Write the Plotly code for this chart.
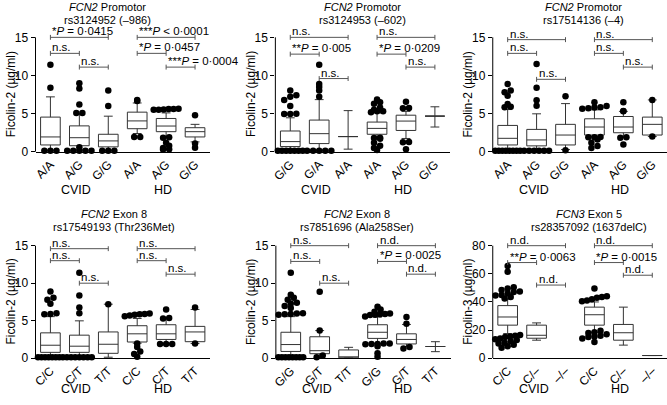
import plotly.graph_objects as go

# ---------------- data ----------------
pairs = [(0, 2), (0, 1), (1, 2), (3, 5), (3, 4), (4, 5)]
groups = ["CVID", "HD"]

# Panel 1
p1_gene, p1_region, p1_snp = "FCN2", "Promotor", "rs3124952 (–986)"
p1_ylabel = "Ficolin-2 (µg/ml)"
p1_yticks = [0, 5, 10, 15]
p1_cats = ["A/A", "A/G", "G/G", "A/A", "A/G", "G/G"]
p1_q1 = [0.90, 0.80, 0.65, 3.03, 2.64, 1.95]
p1_med = [1.95, 1.85, 1.43, 4.05, 3.38, 2.64]
p1_q3 = [4.55, 3.40, 2.30, 5.20, 4.37, 3.16]
p1_lo = [0.20, 0.25, 0.20, 2.40, 2.05, 1.30]
p1_hi = [7.20, 5.00, 4.67, 6.40, 5.10, 3.60]
p1_out = [
    [11.4, 8.4, 0.15, 0.15, 0.15],
    [9.0, 8.3, 6.2, 5.1, 5.1, 0.6, 0.15, 0.15, 0.15, 0.15, 0.15],
    [8.05, 6.0, 0.13, 0.13, 0.13],
    [6.8, 6.65, 1.95, 1.95],
    [5.65, 5.6, 5.6, 5.55, 5.5, 5.5, 1.9, 1.85, 1.2, 0.8, 0.5, 0.35, 0.3],
    [4.8, 1.1, 0.55],
]
p1_levels = [15.0, 12.9, 11.1, 15.0, 12.9, 11.1]
p1_labels = ["*P = 0·0415", "n.s.", "n.s.", "***P < 0·0001", "*P = 0·0457", "***P = 0·0004"]

# Panel 2
p2_gene, p2_region, p2_snp = "FCN2", "Promotor", "rs3124953 (–602)"
p2_ylabel = "Ficolin-2 (µg/ml)"
p2_yticks = [0, 5, 10, 15]
p2_cats = ["G/G", "G/A", "A/A", "A/A", "A/G", "G/G"]
p2_q1 = [0.69, 1.08, 2.00, 2.30, 2.80, 4.68]
p2_med = [1.34, 2.38, 2.00, 3.07, 4.03, 4.68]
p2_q3 = [2.73, 4.16, 2.00, 3.90, 4.80, 4.68]
p2_lo = [0.20, 0.25, 0.35, 1.95, 1.75, 3.25]
p2_hi = [4.46, 6.84, 5.40, 5.10, 5.30, 5.90]
p2_out = [
    [8.05, 7.4, 7.2, 6.8, 6.0, 5.0, 4.95, 4.95, 0.13, 0.13, 0.13, 0.13, 0.13, 0.13, 0.13],
    [11.4, 8.9, 8.5, 8.05, 7.2, 0.13, 0.13, 0.13, 0.13, 0.13],
    [],
    [6.85, 6.5, 6.3, 5.8, 5.5, 5.3, 5.3, 5.2, 1.85, 1.8, 1.7, 1.2, 0.8, 0.5, 0.25],
    [6.55, 5.75, 5.7, 1.3, 1.25, 0.35],
    [],
]
p2_levels = [15.0, 12.8, 9.6, 15.0, 12.8, 11.1]
p2_labels = ["n.s.", "**P = 0·005", "n.s.", "n.s.", "*P = 0·0209", "n.s."]

# Panel 3
p3_gene, p3_region, p3_snp = "FCN2", "Promotor", "rs17514136 (–4)"
p3_ylabel = "Ficolin-2 (µg/ml)"
p3_yticks = [0, 5, 10, 15]
p3_cats = ["A/A", "A/G", "G/G", "A/A", "A/G", "G/G"]
p3_q1 = [0.90, 0.78, 0.90, 2.20, 2.50, 2.20]
p3_med = [1.77, 1.56, 2.20, 3.25, 3.25, 3.60]
p3_q3 = [3.46, 2.94, 3.60, 4.33, 4.63, 4.55]
p3_lo = [0.25, 0.25, 0.30, 2.00, 1.90, 2.00]
p3_hi = [5.54, 4.98, 6.32, 5.50, 5.30, 6.80]
p3_out = [
    [8.9, 8.05, 7.8, 7.36, 6.28, 5.9, 5.85, 0.13, 0.13, 0.13, 0.13, 0.13, 0.13, 0.13, 0.13],
    [11.5, 8.4, 6.75, 6.05, 0.13, 0.13, 0.13, 0.13, 0.13, 0.13],
    [7.27, 0.2],
    [6.5, 6.0, 5.85, 5.8, 5.7, 5.65, 1.95, 1.9, 1.9, 1.6, 1.2, 0.75, 0.5],
    [6.5, 5.35, 5.3, 1.9, 1.85, 0.95],
    [6.8, 2.0],
]
p3_levels = [14.7, 12.9, 9.5, 14.7, 12.9, 11.1]
p3_labels = ["n.s.", "n.s.", "n.s.", "n.s.", "n.s.", "n.s."]

# Panel 4
p4_gene, p4_region, p4_snp = "FCN2", "Exon 8", "rs17549193 (Thr236Met)"
p4_ylabel = "Ficolin-2 (µg/ml)"
p4_yticks = [0, 5, 10, 15]
p4_cats = ["C/C", "C/T", "T/T", "C/C", "C/T", "T/T"]
p4_q1 = [0.78, 0.78, 0.65, 2.16, 2.50, 2.20]
p4_med = [1.73, 1.60, 1.86, 3.25, 3.25, 3.50]
p4_q3 = [3.38, 3.07, 3.50, 4.33, 4.46, 4.24]
p4_lo = [0.25, 0.25, 0.13, 2.00, 1.95, 1.95]
p4_hi = [5.54, 4.98, 7.20, 5.30, 5.30, 6.50]
p4_out = [
    [8.9, 8.05, 7.8, 7.27, 6.0, 5.9, 5.85, 0.13, 0.13, 0.13, 0.13, 0.13, 0.13, 0.13, 0.13],
    [11.4, 8.36, 6.75, 6.0, 0.13, 0.13, 0.13, 0.13, 0.13, 0.13, 0.13],
    [7.2],
    [5.95, 5.9, 5.85, 5.8, 5.7, 5.6, 1.95, 1.5, 0.9, 0.55, 0.2],
    [6.5, 5.35, 5.3, 1.9, 1.9, 1.9],
    [6.75, 1.95],
]
p4_levels = [14.6, 13.0, 10.0, 14.6, 13.0, 11.2]
p4_labels = ["n.s.", "n.s.", "n.s.", "n.s.", "n.s.", "n.s."]

# Panel 5
p5_gene, p5_region, p5_snp = "FCN2", "Exon 8", "rs7851696 (Ala258Ser)"
p5_ylabel = "Ficolin-2 (µg/ml)"
p5_yticks = [0, 5, 10, 15]
p5_cats = ["G/G", "G/T", "T/T", "G/G", "G/T", "T/T"]
p5_q1 = [0.90, 0.60, 0.05, 2.64, 1.90, 1.56]
p5_med = [1.82, 1.00, 0.15, 3.46, 2.50, 1.56]
p5_q3 = [3.46, 2.86, 1.10, 4.46, 3.25, 1.56]
p5_lo = [0.20, 0.10, 0.02, 1.95, 1.55, 0.87]
p5_hi = [5.54, 3.68, 1.45, 5.50, 4.50, 2.20]
p5_out = [
    [11.4, 8.45, 8.05, 7.8, 7.4, 7.3, 6.95, 6.7, 6.0, 5.95, 5.9, 5.85, 5.8,
     0.13, 0.13, 0.13, 0.13, 0.13, 0.13, 0.13, 0.13],
    [8.85, 3.7, 0.35, 0.13],
    [],
    [6.85, 6.5, 6.2, 5.95, 5.9, 5.85, 5.8, 5.75, 5.55, 1.95, 1.95, 1.9, 1.9, 1.85, 1.6, 0.65, 0.2],
    [5.5, 4.6, 1.5, 1.3],
    [],
]
p5_levels = [15.0, 12.9, 10.0, 15.0, 12.9, 11.2]
p5_labels = ["n.s.", "n.s.", "n.s.", "n.d.", "*P = 0·0025", "n.d."]

# Panel 6
p6_gene, p6_region, p6_snp = "FCN3", "Exon 5", "rs28357092 (1637delC)"
p6_ylabel = "Ficolin-3 (µg/ml)"
p6_yticks = [0, 20, 40, 60, 80]
p6_cats = ["C/C", "C/–", "–/–", "C/C", "C/–", "–/–"]
p6_q1 = [23.5, 14.2, None, 23.5, 12.8, 1.9]
p6_med = [29.3, 16.3, None, 30.9, 18.1, 1.9]
p6_q3 = [37.4, 23.5, None, 36.3, 24.0, 1.9]
p6_lo = [17.5, 12.8, None, 18.5, 9.3, 1.9]
p6_hi = [42.0, 25.1, None, 40.0, 36.3, 1.9]
p6_out = [
    [65.5, 61.5, 50.5, 49.5, 48.5, 47.5, 47.0, 46.0, 45.0, 44.5, 43.5, 42.5,
     16.5, 16.0, 15.5, 15.0, 14.0, 13.5, 13.0, 12.0, 11.0, 10.5, 9.5, 8.5, 7.5],
    [],
    [],
    [49.5, 44.0, 43.5, 43.0, 42.0, 41.0, 40.5, 19.5, 18.5, 18.0, 17.0, 16.0, 15.5, 15.0, 14.0, 11.5],
    [],
    [],
]
p6_levels = [80.0, 68.0, 52.0, 80.0, 68.0, 59.0]
p6_labels = ["n.d.", "**P = 0·0063", "n.d.", "n.d.", "*P = 0·0015", "n.d."]

# ---------------- assemble ----------------
def pk(i):
    g = globals()
    return {k: g[f"p{i}_{k}"] for k in
            ["gene", "region", "snp", "ylabel", "yticks", "cats", "q1", "med", "q3",
             "lo", "hi", "out", "levels", "labels"]}

panels = [pk(i) for i in range(1, 7)]

W, H = 667, 405
SP = 29.1          # px per category
XW = 176.0         # px width of x axis
# (y-axis x px, y=0 px, top-tick px, title centre x px, title top y px)
geom = [
    (31.7, 154.5, 38.0, 104, 0.3),
    (273.0, 154.5, 38.0, 361, 0.3),
    (491.7, 154.5, 38.0, 583, 0.3),
    (31.7, 364.5, 250.0, 111, 211.0),
    (273.5, 364.5, 250.0, 355, 211.0),
    (491.7, 364.5, 250.0, 589, 211.0),
]
FONT = "Liberation Sans, Arial, sans-serif"
BOXC = "#333333"
BRC = "#555555"
TITLE_GAP = 12.9


def spread(vals, binsize):
    offs = [0.0] * len(vals)
    bins = {}
    for i, v in enumerate(vals):
        bins.setdefault(round(v / binsize), []).append(i)
    for idx in bins.values():
        n = len(idx)
        if n == 1:
            continue
        st = min(0.21, 0.86 / (n - 1))
        idx = sorted(idx, key=lambda i: vals[i])
        for k, i in enumerate(idx):
            offs[i] = (k - (n - 1) / 2) * st
    return offs


fig = go.Figure()
layout = {}
shapes = []
annots = []
pos = list(range(6))

for k, P in enumerate(panels):
    n = k + 1
    sx = "" if n == 1 else str(n)
    xr, yr = "x" + sx, "y" + sx
    axpx, y0px, ytpx, tcx, tty = geom[k]
    topval = P["yticks"][-1]
    pxu = (y0px - ytpx) / topval
    plot_top = ytpx - 18
    ymax = (y0px - plot_top) / pxu
    xw = min(XW, W - axpx)
    xlo = -15.0 / SP
    layout["xaxis" + sx] = dict(
        domain=[axpx / W, (axpx + xw) / W], range=[xlo, xlo + xw / SP],
        anchor=yr, showline=True, linecolor="black", linewidth=1,
        showgrid=False, zeroline=False, ticks="", tickmode="array",
        tickvals=pos, ticktext=P["cats"], tickangle=-45,
        tickfont=dict(size=12, color="black", family=FONT),
    )
    layout["yaxis" + sx] = dict(
        domain=[1 - y0px / H, 1 - plot_top / H], range=[0, ymax],
        anchor=xr, showline=False, showgrid=False, zeroline=False,
        ticks="outside", ticklen=4, tickwidth=1, tickcolor="black",
        tickmode="array", tickvals=P["yticks"],
        tickfont=dict(size=12, color="black", family=FONT),
    )
    # y axis line (only up to the top tick)
    shapes.append(dict(type="line", xref="paper", yref=yr, x0=axpx / W, x1=axpx / W,
                       y0=0, y1=topval, line=dict(color="black", width=1)))
    # boxes
    keep = [i for i in pos if P["q1"][i] is not None]
    fig.add_trace(go.Box(
        x=[pos[i] for i in keep],
        q1=[P["q1"][i] for i in keep], median=[P["med"][i] for i in keep],
        q3=[P["q3"][i] for i in keep], lowerfence=[P["lo"][i] for i in keep],
        upperfence=[P["hi"][i] for i in keep],
        width=0.68, whiskerwidth=0.45, fillcolor="white", boxpoints=False,
        line=dict(color=BOXC, width=1), xaxis=xr, yaxis=yr, showlegend=False,
        hoverinfo="skip",
    ))
    # outlier points
    xs, ys = [], []
    binsize = 5.5 / pxu
    for i in pos:
        vals = P["out"][i]
        for v, o in zip(vals, spread(vals, binsize)):
            xs.append(pos[i] + o)
            ys.append(v)
    fig.add_trace(go.Scatter(
        x=xs, y=ys, mode="markers", xaxis=xr, yaxis=yr, showlegend=False,
        marker=dict(size=6.5, color="black"), cliponaxis=False, hoverinfo="skip",
    ))
    # brackets
    d = 2.5 / pxu
    bx, by = [], []
    for (a, b), lev, lab in zip(pairs, P["levels"], P["labels"]):
        bx += [pos[a], pos[b], None, pos[a], pos[a], None, pos[b], pos[b], None]
        by += [lev, lev, None, lev - d, lev + d, None, lev - d, lev + d, None]
        txt = lab.replace("P ", "<i>P</i> ")
        annots.append(dict(x=pos[a], y=lev, xref=xr, yref=yr, text=txt,
                           xanchor="left", yanchor="bottom", xshift=1, yshift=-1,
                           showarrow=False, borderpad=0,
                           font=dict(size=11.5, color="black", family=FONT)))
    fig.add_trace(go.Scatter(
        x=bx, y=by, mode="lines", xaxis=xr, yaxis=yr, showlegend=False,
        line=dict(color=BRC, width=1), hoverinfo="skip",
    ))
    # title (two lines, placed separately for tight spacing)
    for li, txt in enumerate([f"<i>{P['gene']}</i> {P['region']}", P["snp"]]):
        annots.append(dict(x=tcx / W, y=1 - (tty + li * TITLE_GAP) / H, xref="paper",
                           yref="paper", text=txt, showarrow=False,
                           xanchor="center", yanchor="top", borderpad=0,
                           font=dict(size=11, color="black", family=FONT)))
    # y axis title
    annots.append(dict(x=(axpx - 25) / W, y=1 - (y0px + ytpx) / 2 / H, xref="paper",
                       yref="paper", text=P["ylabel"], textangle=-90, showarrow=False,
                       xanchor="center", yanchor="middle",
                       font=dict(size=12, color="black", family=FONT)))
    # group labels
    gy = 193 if k < 3 else 396
    for gi, gname in enumerate(groups):
        annots.append(dict(x=1 + 3 * gi, y=1 - gy / H, xref=xr, yref="paper",
                           text=gname, showarrow=False, xanchor="center",
                           yanchor="middle", xshift=-3,
                           font=dict(size=12.5, color="black", family=FONT)))

fig.update_layout(
    width=W, height=H, margin=dict(l=0, r=0, t=0, b=0),
    paper_bgcolor="white", plot_bgcolor="white", boxmode="overlay",
    shapes=shapes, annotations=annots, font=dict(family=FONT), **layout,
)
fig.write_html("out.html", config={"displayModeBar": False},
               post_script="document.body.style.margin='0';")
